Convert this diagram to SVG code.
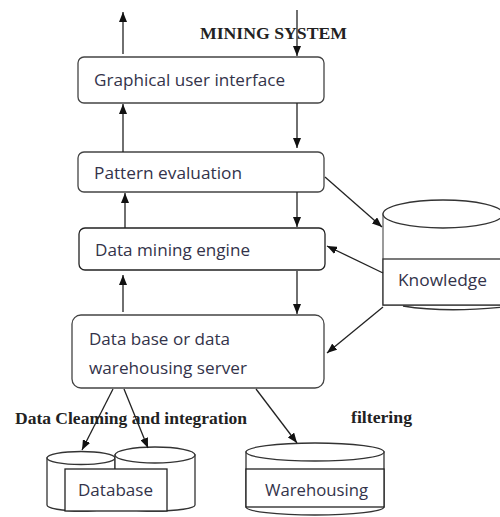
<svg xmlns="http://www.w3.org/2000/svg" width="500" height="517" viewBox="0 0 500 517">
  <defs>
    <marker id="arrow" markerWidth="10" markerHeight="8" refX="10" refY="4" orient="auto" markerUnits="userSpaceOnUse">
      <path d="M0,0 L10,4 L0,8 Z" fill="#111"/>
    </marker>
    <style>
      .box { fill: #fff; stroke: #444; stroke-width: 1.3; }
      .shape { fill: #fff; stroke: #333; stroke-width: 1.3; }
      .line { fill: none; stroke: #333; stroke-width: 1.3; }
      .lbl { font-family: "Open Sans", "Liberation Sans", sans-serif; font-size: 15.5px; fill: #33334a; }
      .title { font-family: "Liberation Serif", "Times New Roman", serif; font-size: 16px; font-weight: bold; fill: #222; }
      .conn { fill: none; stroke: #222; stroke-width: 1.3; marker-end: url(#arrow); }
    </style>
  </defs>
  <rect width="500" height="517" fill="#fff"/>

  <!-- captions -->
  <text class="title" x="200" y="39" textLength="147" lengthAdjust="spacingAndGlyphs">MINING SYSTEM</text>
  <text class="title" x="15" y="424" textLength="232" lengthAdjust="spacingAndGlyphs">Data Cleaming and integration</text>
  <text class="title" x="351" y="423" textLength="61" lengthAdjust="spacingAndGlyphs">filtering</text>

  <!-- processing layers -->
  <g id="gui">
    <rect class="box" x="78" y="57" width="246" height="46" rx="6"/>
    <text class="lbl" x="94" y="86" textLength="191" lengthAdjust="spacingAndGlyphs">Graphical user interface</text>
  </g>
  <g id="pattern-evaluation">
    <rect class="box" x="78" y="152" width="246" height="40" rx="6"/>
    <text class="lbl" x="94" y="179" textLength="148" lengthAdjust="spacingAndGlyphs">Pattern evaluation</text>
  </g>
  <g id="mining-engine">
    <rect class="box" x="79" y="228" width="246" height="42" rx="6" style="stroke:#222"/>
    <text class="lbl" x="95" y="256" textLength="155" lengthAdjust="spacingAndGlyphs">Data mining engine</text>
  </g>
  <g id="db-server">
    <rect class="box" x="72" y="315" width="252" height="73" rx="9"/>
    <text class="lbl" x="89" y="345" textLength="141" lengthAdjust="spacingAndGlyphs">Data base or data</text>
    <text class="lbl" x="89" y="374" textLength="158" lengthAdjust="spacingAndGlyphs">warehousing server</text>
  </g>

  <!-- knowledge base cylinder (runs past the right edge) -->
  <g id="knowledge">
    <path class="shape" d="M383,214 L383,305 L504,305 L504,214 Z" style="stroke:#666"/>
    <path class="line" d="M403,306 Q445,313 504,307"/>
    <ellipse class="shape" cx="443" cy="214" rx="60" ry="14"/>
    <rect class="shape" x="383" y="259" width="130" height="46"/>
    <text class="lbl" x="398" y="286" textLength="89" lengthAdjust="spacingAndGlyphs">Knowledge</text>
  </g>

  <!-- database cylinders -->
  <g id="database">
    <path class="shape" d="M47,458 L47,505 A34,6 0 0 0 115,505 L115,458 Z"/>
    <ellipse class="shape" cx="81" cy="458" rx="34" ry="6.5"/>
    <path class="shape" d="M115,455 L115,505 A40,6 0 0 0 195,505 L195,455 Z"/>
    <ellipse class="shape" cx="155" cy="455" rx="40" ry="8"/>
    <rect class="shape" x="65" y="469" width="102" height="42" style="stroke:#222"/>
    <text class="lbl" x="78" y="496" textLength="75" lengthAdjust="spacingAndGlyphs">Database</text>
  </g>

  <!-- warehouse cylinder -->
  <g id="warehousing">
    <path class="shape" d="M246,452 L246,507 A69,8 0 0 0 384,507 L384,452 Z"/>
    <ellipse class="shape" cx="315" cy="452" rx="69" ry="9"/>
    <rect class="shape" x="246" y="469" width="138" height="38" style="stroke:#222"/>
    <text class="lbl" x="265" y="496" textLength="103" lengthAdjust="spacingAndGlyphs">Warehousing</text>
  </g>

  <!-- connectors -->
  <g id="connectors">
    <line class="conn" x1="123" y1="54" x2="123" y2="12"/>
    <line class="conn" x1="297" y1="10" x2="297" y2="56"/>
    <line class="conn" x1="297" y1="103" x2="297" y2="148"/>
    <line class="conn" x1="297" y1="192" x2="297" y2="227"/>
    <line class="conn" x1="297" y1="271" x2="297" y2="314"/>
    <line class="conn" x1="123" y1="152" x2="123" y2="104"/>
    <line class="conn" x1="125" y1="228" x2="125" y2="193"/>
    <line class="conn" x1="123" y1="312" x2="123" y2="275"/>
    <line class="conn" x1="325" y1="177" x2="382" y2="227"/>
    <line class="conn" x1="383" y1="273" x2="327" y2="246"/>
    <line class="conn" x1="383" y1="307" x2="327" y2="353"/>
    <line class="conn" x1="113" y1="389" x2="82" y2="450"/>
    <line class="conn" x1="124" y1="389" x2="148" y2="448"/>
    <line class="conn" x1="256" y1="389" x2="297" y2="443"/>
  </g>
</svg>
